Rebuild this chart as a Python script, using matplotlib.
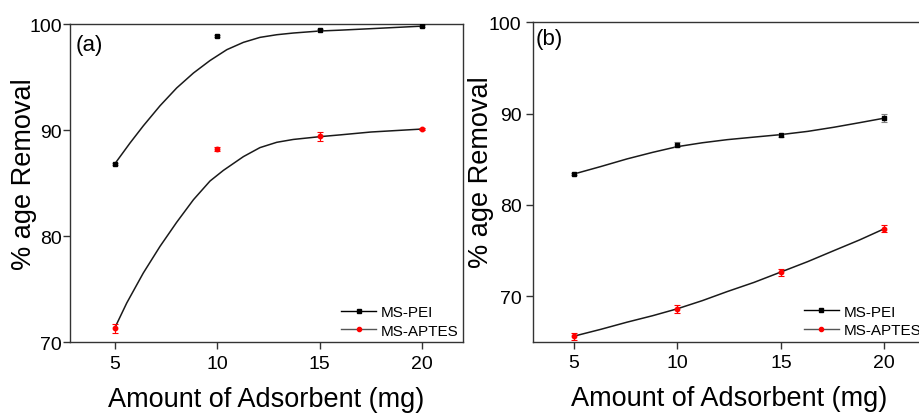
import matplotlib
matplotlib.use("Agg")
import matplotlib.pyplot as plt
from matplotlib.lines import Line2D

plt.rcParams['font.family'] = ['Liberation Sans', 'DejaVu Sans']

# ---- data ----
dose = [5, 10, 15, 20]
xticks = [5, 10, 15, 20]

# panel (a)
a_pei = [86.8, 98.9, 99.4, 99.8]
a_pei_err = [0.12, 0.1, 0.1, 0.1]
a_aptes = [71.3, 88.2, 89.4, 90.1]
a_aptes_err = [0.38, 0.18, 0.42, 0.1]
# fitted curves
a_pei_fit_x = [5.0, 5.73, 6.38, 7.2, 8.01, 8.83, 9.64, 10.46, 11.27, 12.08, 12.9, 13.71, 15.0, 16.0, 17.5, 20.0]
a_pei_fit_y = [86.85, 88.78, 90.4, 92.3, 93.97, 95.38, 96.56, 97.58, 98.27, 98.74, 98.99, 99.15, 99.34, 99.42, 99.56, 99.8]
a_aptes_fit_x = [5.0, 5.57, 6.38, 7.2, 8.01, 8.83, 9.64, 10.29, 11.27, 12.08, 12.9, 13.71, 15.0, 16.0, 17.5, 20.0]
a_aptes_fit_y = [71.4, 73.7, 76.53, 79.05, 81.31, 83.44, 85.2, 86.2, 87.5, 88.35, 88.85, 89.12, 89.38, 89.55, 89.82, 90.1]

# panel (b)
b_pei = [83.4, 86.6, 87.6, 89.5]
b_pei_err = [0.1, 0.3, 0.15, 0.4]
b_aptes = [65.6, 68.6, 72.6, 77.4]
b_aptes_err = [0.4, 0.4, 0.4, 0.42]
b_pei_fit_x = [5.0, 6.3, 7.56, 8.8, 9.98, 11.2, 12.4, 13.7, 14.98, 16.3, 17.56, 18.8, 19.98]
b_pei_fit_y = [83.38, 84.2, 85.03, 85.75, 86.37, 86.8, 87.14, 87.42, 87.69, 88.05, 88.5, 89.0, 89.49]
b_aptes_fit_x = [5.0, 6.3, 7.56, 8.8, 9.98, 11.2, 12.4, 13.7, 14.98, 16.3, 17.56, 18.8, 19.98]
b_aptes_fit_y = [65.61, 66.36, 67.14, 67.85, 68.6, 69.5, 70.49, 71.5, 72.62, 73.78, 74.98, 76.15, 77.36]

labels = ["MS-PEI", "MS-APTES"]

fig = plt.figure(figsize=(9.2, 4.14), dpi=100)
axa = fig.add_axes([0.0761, 0.1708, 0.4272, 0.7688])
axb = fig.add_axes([0.579, 0.1722, 0.4272, 0.7715])

spine_col = '#333333'

def style(ax, ylim, yticks, xlim, ypad):
    ax.set_xlim(*xlim)
    ax.set_ylim(*ylim)
    ax.set_xticks(xticks)
    ax.set_yticks(yticks)
    for s in ax.spines.values():
        s.set_color(spine_col)
        s.set_linewidth(1.0)
    ax.tick_params(axis='both', direction='out', length=5, width=1.0, color=spine_col,
                   labelsize=14, top=False, right=False)
    ax.tick_params(axis='x', pad=4)
    ax.tick_params(axis='y', pad=ypad)

def draw(ax, pei, pei_err, aptes, aptes_err, pfx, pfy, afx, afy):
    ax.plot(pfx, pfy, color='#1a1a1a', lw=1.1, zorder=2, solid_joinstyle='round')
    ax.plot(afx, afy, color='#1a1a1a', lw=1.1, zorder=2, solid_joinstyle='round')
    ax.errorbar(dose, pei, yerr=pei_err, fmt='s', color='black', ms=3.2,
                ecolor='#808080', elinewidth=0.8, capsize=2.5, capthick=0.8, zorder=3)
    ax.errorbar(dose, aptes, yerr=aptes_err, fmt='o', color='red', ms=3.2,
                ecolor='red', elinewidth=0.8, capsize=2.5, capthick=0.8, zorder=3)
    handles = [Line2D([], [], color='black', lw=1.0, marker='s', ms=3, mfc='black', mec='black'),
               Line2D([], [], color='#555555', lw=1.0, marker='o', ms=3, mfc='red', mec='red')]
    ax.legend(handles, labels, loc='lower right', bbox_to_anchor=(1.0, 0.0), frameon=False,
              fontsize=11, handlelength=2.3, handletextpad=0.3, labelspacing=0.3,
              borderaxespad=0.1, borderpad=0.2)
    ax.set_xlabel("Amount of Adsorbent (mg)", fontsize=19.5, labelpad=10)
    ax.set_ylabel("% age Removal", fontsize=19.5)

style(axa, (70, 100), [70, 80, 90, 100], (2.8, 22.0), 1.0)
style(axb, (65, 100), [70, 80, 90, 100], (3.0, 22.0), 3)

draw(axa, a_pei, a_pei_err, a_aptes, a_aptes_err, a_pei_fit_x, a_pei_fit_y, a_aptes_fit_x, a_aptes_fit_y)
draw(axb, b_pei, b_pei_err, b_aptes, b_aptes_err, b_pei_fit_x, b_pei_fit_y, b_aptes_fit_x, b_aptes_fit_y)

axa.yaxis.set_label_coords(-0.085, 0.53)
axb.yaxis.set_label_coords(-0.098, 0.534)

axa.text(0.015, 0.937, "(a)", transform=axa.transAxes, fontsize=16, ha='left', va='center')
axb.text(0.008, 0.948, "(b)", transform=axb.transAxes, fontsize=16, ha='left', va='center')

fig.savefig("out.png", dpi=100)
